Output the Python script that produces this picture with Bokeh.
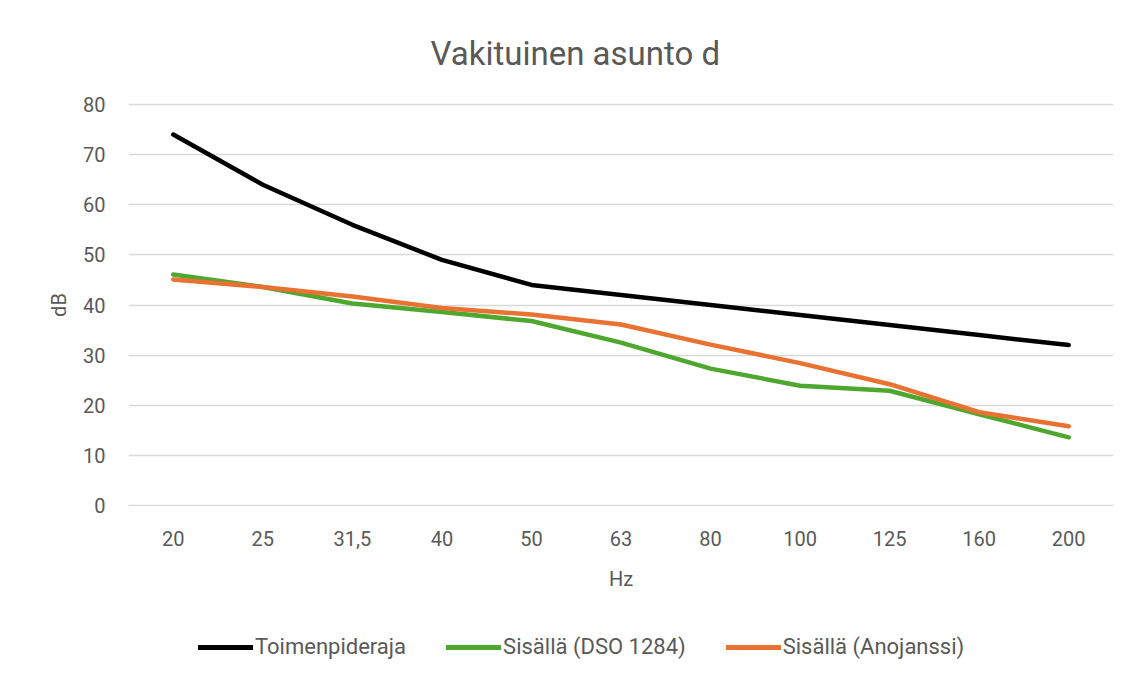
from bokeh.plotting import figure
from bokeh.models import Legend, LegendItem, ColumnDataSource, FixedTicker
from bokeh.layouts import column
from bokeh.embed import file_html
from bokeh.resources import INLINE

categories = ["20", "25", "31,5", "40", "50", "63", "80", "100", "125", "160", "200"]
toimenpideraja = [74, 64, 56, 49, 44, 42, 40, 38, 36, 34, 32]
dso_1284 = [46.1, 43.6, 40.3, 38.6, 36.8, 32.5, 27.3, 23.9, 22.9, 18.2, 13.6]
anojanssi = [45.1, 43.6, 41.7, 39.4, 38.1, 36.1, 32.1, 28.4, 24.2, 18.6, 15.8]

series_names = ["Toimenpideraja", "Sisällä (DSO 1284)", "Sisällä (Anojanssi)"]
series_values = [toimenpideraja, dso_1284, anojanssi]
colors = ["#000000", "#4EA72E", "#E97132"]

FONT = "Roboto"
TXT = "#595959"
W = 1130

p = figure(x_range=categories, y_range=(-0.2, 80.2), width=W, height=610,
           output_backend="svg", toolbar_location=None,
           min_border_left=128, min_border_right=17, min_border_top=103, min_border_bottom=104)

p.title.text = "Vakituinen asunto d"
p.title.align = "left"
p.title.text_font = FONT
p.title.text_font_size = "33px"
p.title.text_font_style = "normal"
p.title.text_color = TXT
p.title.standoff = 62
p.title.offset = 302

for name, vals, col in zip(series_names, series_values, colors):
    src = ColumnDataSource(dict(x=categories, y=vals))
    p.line("x", "y", source=src, line_color=col, line_width=4.5, line_join="round", line_cap="round")

p.outline_line_color = None
p.xgrid.grid_line_color = None
p.ygrid.grid_line_color = "#d9d9d9"
p.ygrid.grid_line_width = 1.5
p.yaxis.ticker = FixedTicker(ticks=[0, 10, 20, 30, 40, 50, 60, 70, 80])

for ax in (p.xaxis[0], p.yaxis[0]):
    ax.axis_line_color = None
    ax.major_tick_line_color = None
    ax.minor_tick_line_color = None
    ax.major_label_text_font = FONT
    ax.major_label_text_font_size = "20px"
    ax.major_label_text_color = TXT
    ax.axis_label_text_font = FONT
    ax.axis_label_text_font_size = "20px"
    ax.axis_label_text_font_style = "normal"
    ax.axis_label_text_color = TXT

p.xaxis.axis_label = "Hz"
p.yaxis.axis_label = "dB"
p.xaxis.major_label_standoff = 18
p.xaxis.axis_label_standoff = 18
p.yaxis.major_label_standoff = 17
p.yaxis.axis_label_standoff = 9

# legend strip below the chart (its frame is aligned with the chart's frame)
q = figure(x_range=(0, 1), y_range=(0, 1), width=W, height=63,
           output_backend="svg", toolbar_location=None,
           x_axis_type=None, y_axis_type=None,
           min_border_left=0, min_border_right=0, min_border_top=0, min_border_bottom=0)
q.outline_line_color = None
q.xgrid.grid_line_color = None
q.ygrid.grid_line_color = None

nan = float("nan")
items = []
for name, col in zip(series_names, colors):
    src = ColumnDataSource(dict(x=[nan], y=[nan]))
    r = q.line("x", "y", source=src, line_color=col, line_width=5, line_cap="round")
    items.append(LegendItem(label=name, renderers=[r]))

legend = Legend(items=items, orientation="horizontal", location=(70, 14))
legend.label_text_font = FONT
legend.label_text_font_size = "22px"
legend.label_text_color = TXT
legend.glyph_width = 55
legend.label_standoff = 2
legend.spacing = 40
legend.border_line_color = None
legend.background_fill_alpha = 0
legend.margin = 0
legend.padding = 0
q.add_layout(legend, "center")

layout = column(p, q, spacing=0)
open("out.html", "w").write(file_html(layout, INLINE))
